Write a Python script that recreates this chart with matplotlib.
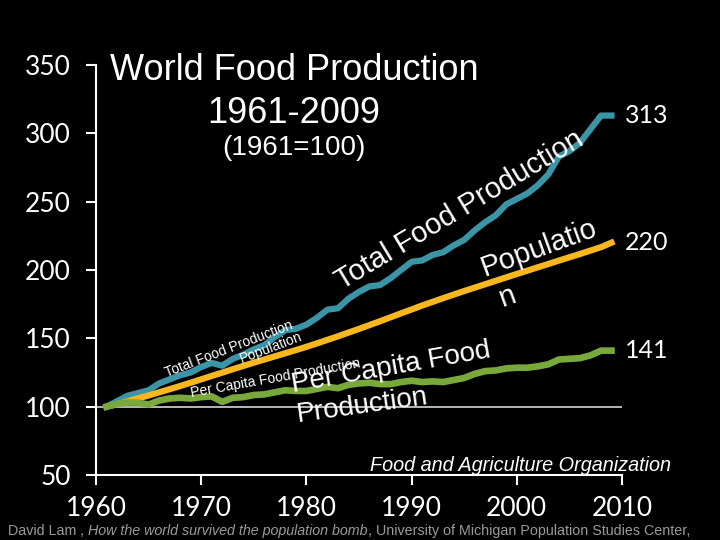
import matplotlib
matplotlib.use("Agg")
import matplotlib.pyplot as plt
from matplotlib import font_manager

years = list(range(1961, 2010))
total_food = [100, 104, 108, 110, 112, 117, 120, 123, 125, 129,
              132, 130, 135, 138, 142, 145, 151, 156, 157, 160,
              165, 171, 172, 179, 184, 188, 189, 194, 200, 206,
              207, 211, 213, 218, 222, 229, 235, 240, 248, 252,
              256, 262, 270, 283, 287, 293, 303, 313, 313]
population = [100, 101.7, 103.9, 106.1, 108.2, 110.5, 112.8, 115.1, 117.5, 120.0,
              122.5, 124.9, 127.4, 129.8, 132.2, 134.5, 136.8, 139.1, 141.4, 143.8,
              146.3, 148.9, 151.5, 154.2, 156.9, 159.7, 162.5, 165.4, 168.3, 171.1,
              174.0, 176.7, 179.4, 182.0, 184.6, 187.1, 189.6, 192.1, 194.6, 197.1,
              199.5, 202.0, 204.4, 206.9, 209.3, 211.7, 214.2, 216.7, 220]
per_capita = [100, 102, 103, 103, 101.5, 104.5, 106, 106.5, 106, 107,
              107.5, 103.5, 106.5, 107, 108.5, 109, 110.5, 112, 111.5, 111.5,
              113, 114.5, 113.5, 116, 117, 117.5, 116.5, 116.5, 118, 119,
              118, 118.5, 118, 119.5, 121, 124, 126, 126.5, 128, 128.5,
              128.5, 129.5, 131, 134.5, 135, 135.5, 137.5, 141, 141]
end_labels = ["313", "220", "141"]
xticks = [1960, 1970, 1980, 1990, 2000, 2010]
yticks = [50, 100, 150, 200, 250, 300, 350]

teal = '#3b95a7'
orange = '#f8b71c'
green = '#79a83b'

installed = {f.name for f in font_manager.fontManager.ttflist}
narrow = 'Liberation Sans Narrow' if 'Liberation Sans Narrow' in installed else 'Liberation Sans'
arial = 'Liberation Sans'
tickfont = 'Lato'

fig = plt.figure(figsize=(7.2, 5.4), dpi=100, facecolor='black')
ax = fig.add_axes([96/720, 65/540, 526/720, 410/540])
ax.set_facecolor('black')

ax.axhline(100, color='#e8e8e8', lw=1.1, zorder=1)
ax.plot(years, total_food, color=teal, lw=4.5, solid_joinstyle='round', zorder=2)
ax.plot(years, population, color=orange, lw=4.5, solid_joinstyle='round', zorder=3)
ax.plot(years, per_capita, color=green, lw=4.8, solid_joinstyle='round', zorder=4)

ax.set_xlim(1960, 2010)
ax.set_ylim(50, 350)
ax.set_xticks(xticks)
ax.set_yticks(yticks)
for s in ['top', 'right']:
    ax.spines[s].set_visible(False)
for s in ['left', 'bottom']:
    ax.spines[s].set_color('white')
    ax.spines[s].set_linewidth(1.5)
ax.tick_params(colors='white', width=1.5, length=7, direction='out')
ax.tick_params(axis='y', pad=11)
ax.tick_params(axis='x', pad=8)
for lab in ax.get_yticklabels():
    lab.set_fontfamily(tickfont)
    lab.set_fontsize(19)
for lab in ax.get_xticklabels():
    lab.set_fontfamily(tickfont)
    lab.set_fontsize(19)

# end values
for series, lab in zip([total_food, population, per_capita], end_labels):
    ax.text(2010.3, series[-1], lab, color='white', fontsize=18, family=tickfont,
            ha='left', va='center', clip_on=False)

# labels along the lines
def lbl(x, y, s, rot, size):
    ax.text(x, y, s, color='white', fontsize=size, family=arial, rotation=rot,
            rotation_mode='anchor', ha='left', va='baseline', zorder=6)

lbl(1983.4, 185.4, "Total Food Production", 31, 21)
lbl(1996.9, 195.6, "Populatio", 20, 21)
lbl(1998.6, 172.9, "n", 20, 21)
lbl(1966.75, 121.7, "Total Food Production", 21, 10)
lbl(1973.9, 132.0, "Population", 21, 10)
lbl(1969.1, 107.1, "Per Capita Food Production", 10, 10)
lbl(1978.7, 110.7, "Per Capita Food", 10, 20)
lbl(1979.2, 88.8, "Production", 8, 20)

# titles
fig.text(294/720, 1 - 80/540, "World Food Production", color='white', fontsize=26,
         family=arial, ha='center', va='baseline')
fig.text(294/720, 1 - 123/540, "1961-2009", color='white', fontsize=26,
         family=arial, ha='center', va='baseline')
fig.text(294/720, 1 - 155/540, "(1961=100)", color='white', fontsize=20,
         family=arial, ha='center', va='baseline')
fig.text(520/720, 1 - 471/540, "Food and Agriculture Organization", color='white',
         fontsize=14.3, family=arial, style='italic', ha='center', va='baseline')

# source line, mixed upright / italic, fitted to the width seen in the picture
parts = [("David Lam", 'normal'), (" , ", 'normal'),
         ("How the world survived the population bomb", 'italic'),
         (", University of Michigan Population Studies Center,", 'normal')]
renderer = fig.canvas.get_renderer()
probe = 0
for txt, st in parts:
    t = fig.text(0, 0, txt, fontsize=10, family=narrow, style=st)
    probe += t.get_window_extent(renderer).width
    t.remove()
size = 10 * 682 / probe
xpos = 8
for txt, st in parts:
    t = fig.text(xpos/720, 1 - 535/540, txt, color='#9a9a9a', fontsize=size,
                 family=narrow, style=st, ha='left', va='baseline')
    xpos += t.get_window_extent(renderer).width

fig.savefig('out.png', dpi=100, facecolor='black')
